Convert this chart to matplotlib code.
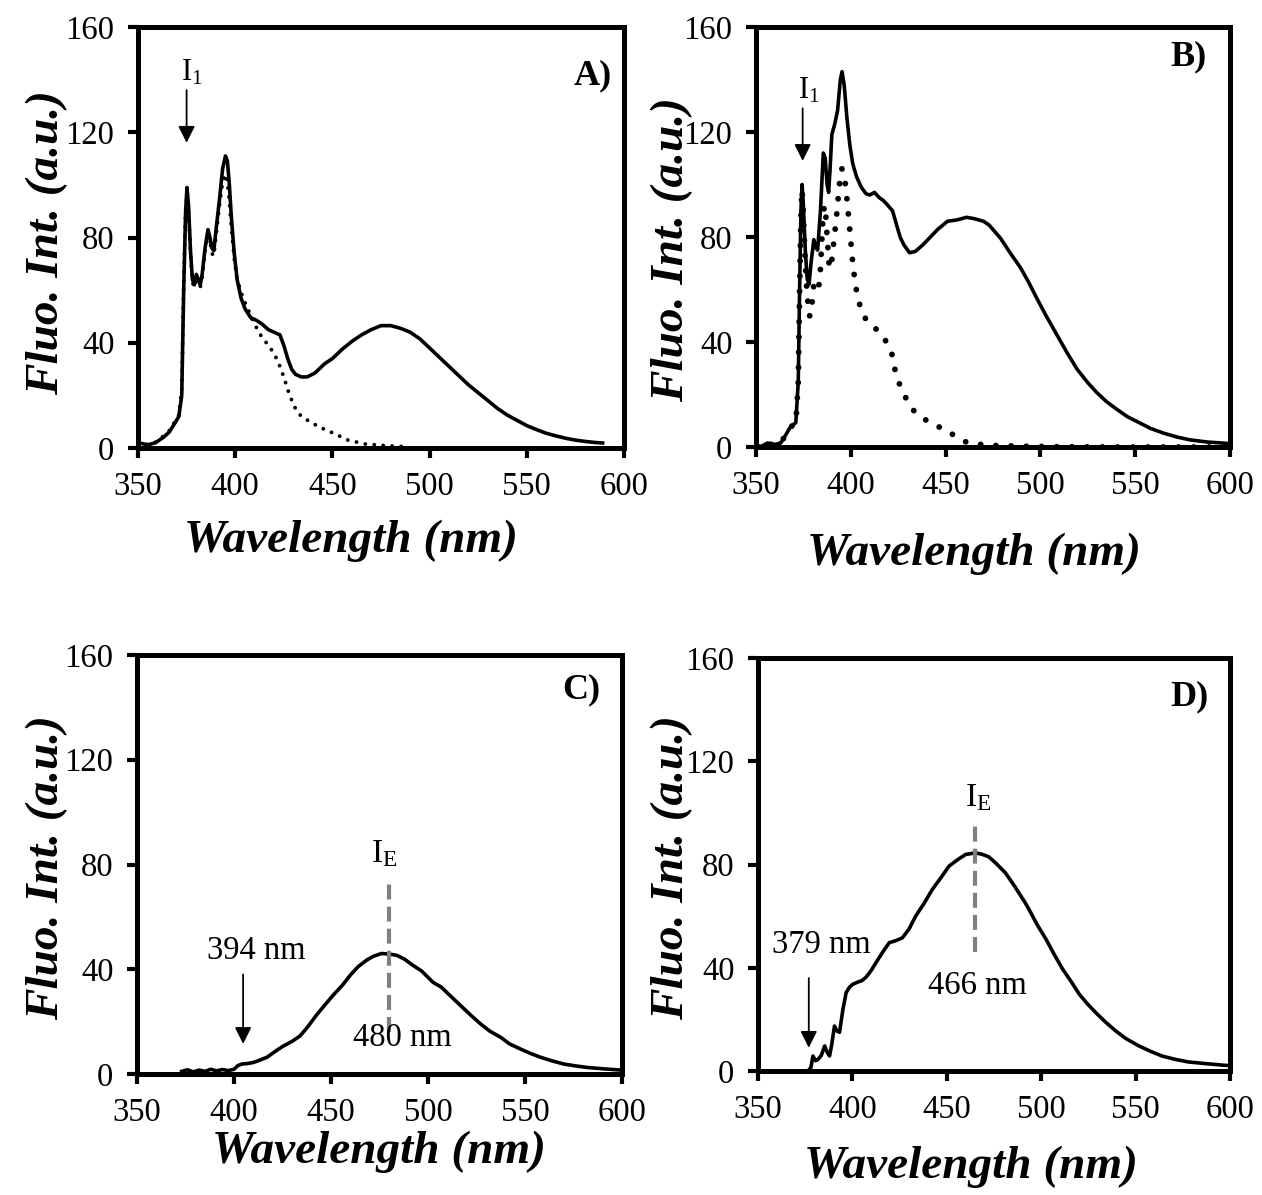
"""Fluorescence emission spectra, panels A-D."""

import matplotlib
matplotlib.use('Agg')
import matplotlib.pyplot as plt

plt.rcParams['font.family'] = ['Liberation Serif', 'DejaVu Serif']
plt.rcParams['mathtext.fontset'] = 'custom'
plt.rcParams['mathtext.rm'] = 'Liberation Serif'
plt.rcParams['mathtext.it'] = 'Liberation Serif:italic'
plt.rcParams['mathtext.bf'] = 'Liberation Serif:bold'

# ---- data (wavelength nm, intensity a.u.) ----
a_solid_x = [350, 355, 359, 363, 366, 369, 371, 372.5, 373.5, 374.5, 375.2, 376, 377, 378, 379, 380, 381,
             382, 383, 384.5, 386, 387, 388, 389, 390, 392, 393.5, 395, 396, 397, 398, 399.5, 401, 403,
             405, 408, 411, 414, 417, 420, 423, 425, 427, 429, 431, 434, 437, 441, 446, 450, 455, 460,
             465, 470, 475, 480, 485, 490, 495, 500, 505, 510, 515, 520, 525, 530, 535, 540, 545, 550,
             555, 560, 565, 570, 575, 580, 585, 589]
a_solid_y = [2.0, 1.2, 2.0, 4, 6, 9.5, 12, 20, 60, 90, 99, 92, 75, 64, 62, 66, 64,
             62, 66, 76, 83, 80, 76, 75, 82, 95, 106, 111, 109, 100, 88, 74, 64, 57,
             53, 49.5, 48.5, 47, 45, 44, 43, 39, 34, 30, 28, 27, 27, 28.5, 32, 34, 37.5, 40.5,
             43, 45, 46.5, 46.5, 45.5, 44, 41.5, 38, 34.5, 31, 27.5, 24, 21, 18, 15, 12.5, 10.5, 8.5,
             7, 5.6, 4.6, 3.7, 3.0, 2.5, 2.1, 1.9]

a_dot_x = [350, 355, 359, 363, 366, 369, 371, 372.5, 373.5, 374.5, 375.2, 376, 377, 378, 379, 380, 381,
           382, 383, 384.5, 386, 387, 388, 389, 390, 392, 393.5, 395, 396, 397, 398, 399.5, 401, 404,
           407, 410, 413, 416, 419, 422, 425, 428, 431, 434, 440, 445, 450, 458, 467, 477, 488]
a_dot_y = [2.0, 1.3, 2.2, 4.5, 6.5, 10, 12.5, 22, 62, 90, 97, 90, 74, 63, 61, 65, 63,
           61, 65, 75, 81, 79, 74, 73, 80, 93, 101, 104, 101, 94, 84, 72, 64, 57,
           52, 47, 43, 40, 37, 33, 27, 20, 15, 12, 9.3, 7.4, 5.8, 3.0, 1.5, 0.9, 0.5]

b_solid_x = [350, 353, 356, 360, 363, 366, 368, 371, 372.3, 373, 373.7, 374.3, 375, 376, 377, 378, 379,
             380.5, 381.5, 382.5, 384, 385.5, 386.5, 387.5, 388.3, 389, 390, 391.5, 393, 394.5, 395.4,
             396.5, 398, 399.5, 401, 403, 405.5, 408, 410, 412.5, 415, 417, 419, 422, 424, 426, 428,
             431, 434, 438, 442, 446, 451, 456, 461, 465, 470, 473, 476, 479, 484, 489.5, 494, 498,
             503, 508.8, 514, 519.3, 525, 529.8, 535, 540.4, 546, 552.6, 558, 564.9, 572, 579, 588, 598]
b_solid_y = [0.5, 0.3, 1.5, 1.0, 1.5, 5, 7.5, 9.3, 25, 60, 90, 100, 92, 75, 64, 62, 70,
             79, 76, 75, 90, 112, 110, 100, 97, 105, 119, 123, 128, 140, 143,
             138, 125, 115, 108, 103, 99, 96.5, 96, 97, 95, 94, 92.5, 90, 85, 80, 77,
             74, 74.5, 77, 80, 83, 86, 86.5, 87.5, 87, 86, 84.5, 82, 79.5, 74, 68.3, 62.5, 56.8,
             50, 42.6, 36, 29.7, 24.5, 20.7, 17.2, 14.3, 11.5, 9.1, 7.1, 5.3, 3.8, 2.7, 1.9, 1.4]

b_dot_x = [350, 356, 360, 363, 366, 368, 371, 372.3, 373, 373.7, 374.3, 375, 376, 377, 378, 379, 380.5,
           382, 383, 384, 385.5, 386.5, 387.5, 388.5, 389.5, 391, 392.5, 394, 395.3, 396.5, 397.5,
           398.3, 399.3, 400.3, 401.3, 403, 405.5, 408.5, 411.5, 415, 418.8, 421.5, 424, 426.8, 429.5,
           433, 438, 443.6, 450, 455.3, 460.5, 466.7, 475, 490, 510, 540, 570, 600]
b_dot_y = [0.3, 1.2, 0.8, 1.5, 5, 7.5, 9, 25, 60, 88, 98, 88, 70, 58, 50, 50, 62,
           60, 60, 68, 90, 92, 80, 70, 68, 78, 88, 100, 106, 104, 98,
           92, 84, 76, 68, 59.5, 51.7, 48, 46, 44, 40, 36, 27, 22, 18,
           14, 11, 8.5, 6.6, 4, 2, 1.1, 0.6, 0.3, 0.1, 0.0, 0.0, 0.0]

c_x = [373, 376, 379, 382, 385, 388, 391, 394, 397, 400, 402, 404, 407, 410, 413, 417, 421, 425, 430,
       434, 438, 442.6, 447, 451, 456, 460, 464, 468.4, 472, 476, 480, 484, 488, 492, 496.6, 502.6,
       506.8, 512, 517, 522, 527.3, 532, 537.5, 542, 547.8, 553, 558, 564, 570, 576, 582, 590, 597.4, 600]
c_y = [1.0, 1.6, 0.8, 1.5, 1.0, 1.8, 1.2, 1.7, 1.3, 1.8, 3.2, 3.8, 4.0, 4.4, 5.2, 6.4, 8.5, 10.5, 12.5,
       14.5, 18, 22.6, 26.5, 30, 34, 37.8, 41, 43.5, 45, 46, 45.8, 45.3, 43.8, 41.6, 39.4, 35,
       33.2, 29.5, 26, 22.5, 19, 16.3, 14, 11.5, 9.5, 7.8, 6.4, 5, 3.8, 3.1, 2.5, 2, 1.6, 1.5]

d_x = [377, 378, 379.1, 380.5, 381.8, 383.5, 385.3, 386.5, 387.9, 389, 390.5, 391.8, 393.2, 395, 396.7,
       398.5, 400.2, 403, 405, 407.2, 410, 412.5, 416, 419.5, 423, 426.5, 430, 433.5, 438, 442.3, 447,
       451.2, 456, 460, 465.2, 468.5, 472.2, 476, 481, 486, 491.5, 494, 498, 502.6, 507, 511.4, 516,
       520.2, 524.5, 528.9, 534, 539.5, 545, 551.8, 558, 564, 571, 578, 588, 597.3, 600]
d_y = [0.5, 1.3, 5.8, 4.0, 4.5, 6, 9.7, 7.5, 5.8, 10, 17.4, 15.5, 15, 24, 30.4,
       32.5, 33.6, 34.5, 35, 36.3, 39, 42, 46, 49.7, 50.5, 51.6, 55, 60, 65, 70.3, 75,
       79.4, 82, 83.9, 84.5, 84, 83, 80.5, 76.8, 71.5, 65.2, 62, 56.5, 51, 45, 39.4, 34.5,
       29.7, 26, 22.6, 19, 15.5, 12.5, 9.7, 7.6, 5.8, 4.5, 3.5, 2.8, 2.2, 2.1]

x_ticks = [350, 400, 450, 500, 550, 600]
y_ticks = [0, 40, 80, 120, 160]

W, H = 1262, 1195
LABEL_FONT = dict(fontsize=34, fontweight='bold', fontstyle='italic')
ARROW = dict(arrowstyle='-|>', mutation_scale=25, lw=1.3, color='black', shrinkA=0, shrinkB=0)


def px_axes(fig, left, top, right, bottom):
    # place an axes from pixel edges of the reference picture
    return fig.add_axes([left / W, 1 - bottom / H, (right - left) / W, (bottom - top) / H])


def style(ax, letter, lx, ly):
    ax.set_xlim(350, 600)
    ax.set_ylim(0, 160)
    ax.set_xticks(x_ticks)
    ax.set_yticks(y_ticks)
    for s in ax.spines.values():
        s.set_linewidth(3.6)
    ax.tick_params(direction='out', length=7, width=3, labelsize=23.5, pad=10)
    ax.text(lx, ly, letter, transform=ax.transAxes, fontsize=26, fontweight='bold',
            ha='right', va='center')


fig = plt.figure(figsize=(W / 100, H / 100), dpi=100)

# A
ax = px_axes(fig, 138, 27, 624, 448)
ax.plot(a_dot_x, a_dot_y, color='black', lw=2.8, ls=(0, (0.01, 2.3)), dash_capstyle='round')
ax.plot(a_solid_x, a_solid_y, color='black', lw=2.6)
ax.annotate('', xy=(375, 116), xytext=(375, 136), arrowprops=ARROW)
ax.text(377.5, 137, r'I$_\mathrm{1}$', fontsize=22, ha='center', va='bottom')
style(ax, 'A)', 0.975, 0.885)

# B
ax = px_axes(fig, 756, 27, 1230, 447)
ax.plot(b_dot_x, b_dot_y, color='black', lw=4.2, ls=(0, (0.01, 2.6)), dash_capstyle='round')
ax.plot(b_solid_x, b_solid_y, color='black', lw=2.6)
ax.annotate('', xy=(374.6, 109), xytext=(374.6, 129), arrowprops=ARROW)
ax.text(378, 130, r'I$_\mathrm{1}$', fontsize=22, ha='center', va='bottom')
style(ax, 'B)', 0.951, 0.928)

# C
ax = px_axes(fig, 137, 655, 622, 1074)
ax.plot(c_x, c_y, color='black', lw=2.6)
ax.plot([480, 480], [16, 73], color='#808080', lw=3, ls=(0, (3.6, 1.7)))
ax.annotate('', xy=(404.7, 11.5), xytext=(404.7, 38), arrowprops=ARROW)
ax.text(411.5, 47, '394 nm', fontsize=23.5, ha='center', va='center')
ax.text(477.5, 84, r'I$_\mathrm{E}$', fontsize=24, ha='center', va='center')
ax.text(487, 13.7, '480 nm', fontsize=23.5, ha='center', va='center')
style(ax, 'C)', 0.955, 0.917)

# D
ax = px_axes(fig, 758, 658, 1230, 1071)
ax.plot(d_x, d_y, color='black', lw=2.6)
ax.plot([465, 465], [46, 95], color='#808080', lw=3, ls=(0, (3.6, 1.7)))
ax.annotate('', xy=(376.9, 9), xytext=(376.9, 36), arrowprops=ARROW)
ax.text(383.4, 49, '379 nm', fontsize=23.5, ha='center', va='center')
ax.text(466.4, 106, r'I$_\mathrm{E}$', fontsize=24, ha='center', va='center')
ax.text(466.4, 33, '466 nm', fontsize=23.5, ha='center', va='center')
style(ax, 'D)', 0.954, 0.906)

# axis titles, placed like the original layout
for x, y in [(351, 552), (974, 565), (379, 1163), (971, 1178)]:
    fig.text(x / W, 1 - y / H, 'Wavelength (nm)', ha='center', va='baseline', **LABEL_FONT)
for x, y in [(47, 243), (672, 250), (47, 868), (672, 868)]:
    fig.text(x / W, 1 - y / H, 'Fluo. Int. (a.u.)', ha='center', va='center', rotation=90, **LABEL_FONT)

plt.savefig('out.png', dpi=100)
